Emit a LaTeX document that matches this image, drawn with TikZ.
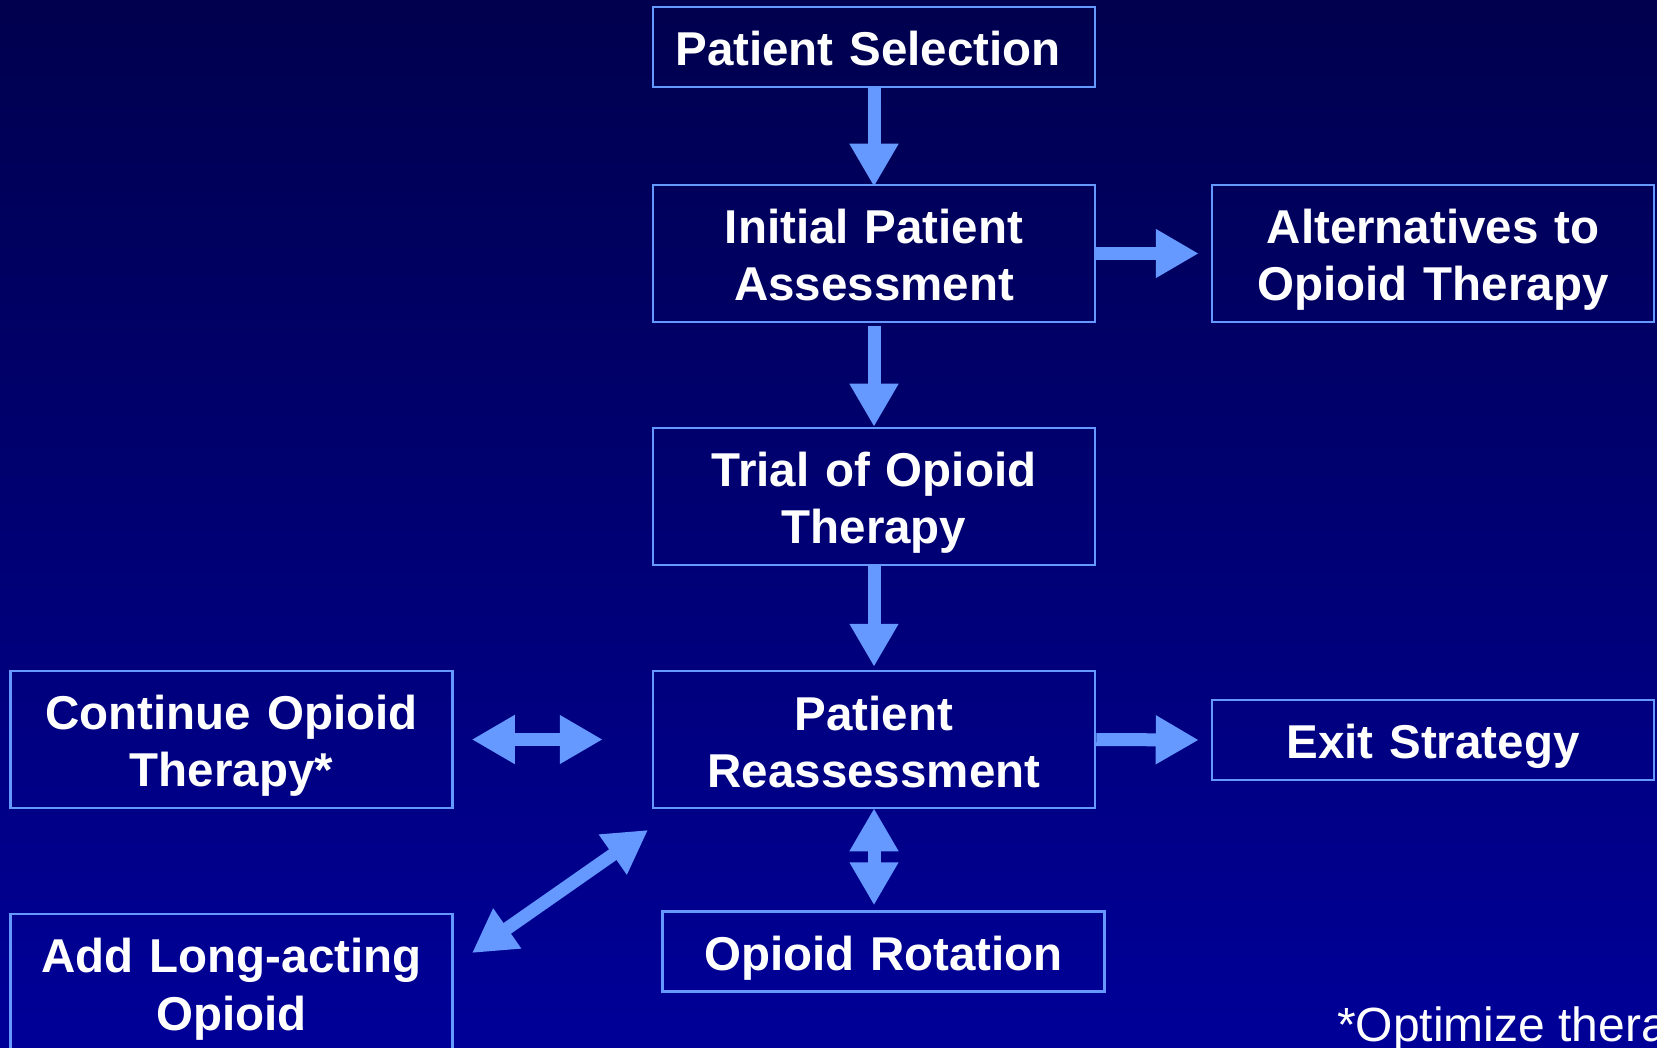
\documentclass[tikz,border=0pt]{standalone}
\usepackage{fontspec}
\setmainfont{Liberation Sans}
\usetikzlibrary{arrows.meta,calc}
\definecolor{bgtop}{RGB}{0,0,78}
\definecolor{bgbot}{RGB}{0,0,152}
\definecolor{edgeblue}{RGB}{102,153,255}
\newcommand{\lnstrut}{\rule[-9pt]{0pt}{56pt}}
\tikzset{
  box/.style={draw=edgeblue, line width=2.5pt, minimum width=442pt, text width=430pt,
    align=center, text=white, inner sep=0pt,
    font=\bfseries\fontsize{47.5}{57}\selectfont},
  tallbox/.style={box, minimum height=137pt},
  shortbox/.style={box, minimum height=80pt},
  flowarrow/.style={draw=edgeblue, line width=13pt,
    -{Triangle[width=46pt,length=43pt,fill=edgeblue]}},
  twoway/.style={draw=edgeblue, line width=13pt,
    {Triangle[width=46pt,length=43pt,fill=edgeblue]}-{Triangle[width=46pt,length=43pt,fill=edgeblue]}}
}
\begin{document}
\begin{tikzpicture}[x=1pt,y=-1pt]
\shade[top color=bgtop, bottom color=bgbot] (0,0) rectangle (1657,1048);
\useasboundingbox (0,0) rectangle (1657,1048);

\node[shortbox] (ps) at (874,47) {\lnstrut Patient Selection\hspace*{12pt}};
\node[tallbox] (ipa) at (874,253.5) {\lnstrut Initial Patient\\\lnstrut Assessment};
\node[tallbox] (alt) at (1433,253.5) {\lnstrut Alternatives to\\\lnstrut Opioid Therapy};
\node[tallbox] (trial) at (874,496.5) {\lnstrut Trial of Opioid\\\lnstrut Therapy};
\node[tallbox] (pr) at (874,739.5) {\lnstrut Patient\\\lnstrut Reassessment};
\node[shortbox] (exit) at (1433,740) {\lnstrut Exit Strategy};
\node[tallbox] (cont) at (231.5,739.5) {\lnstrut Continue Opioid\\\lnstrut Therapy*};
\node[tallbox] (add) at (231.5,982.5) {\lnstrut Add Long-acting\\\lnstrut Opioid};
\node[shortbox] (rot) at (883.5,951.5) {\lnstrut Opioid Rotation};
\node[anchor=base west, inner sep=0pt, text=white, font=\fontsize{48}{57}\selectfont] (note) at (1337,1041) {*Optimize thera};

\coordinate (dlow) at (472,953);
\coordinate (dhigh) at (648,830);

\draw[flowarrow] (ps.south) -- ($(ipa.north)+(0,3)$);
\draw[flowarrow] (ipa.east) -- ($(alt.west)+(-12,0)$);
\draw[flowarrow] ($(ipa.south)+(0,3)$) -- (trial.north);
\draw[flowarrow] (trial.south) -- ($(pr.north)+(0,-3)$);
\draw[flowarrow] (pr.east) -- ($(exit.west)+(-12,0)$);
\draw[twoway] ($(cont.east)+(18,0)$) -- ($(pr.west)+(-49,0)$);
\draw[twoway] ($(pr.south)+(0,-1)$) -- ($(pr.south)+(0,96)$);
\draw[twoway] (dlow) -- (dhigh);
\end{tikzpicture}
\end{document}
